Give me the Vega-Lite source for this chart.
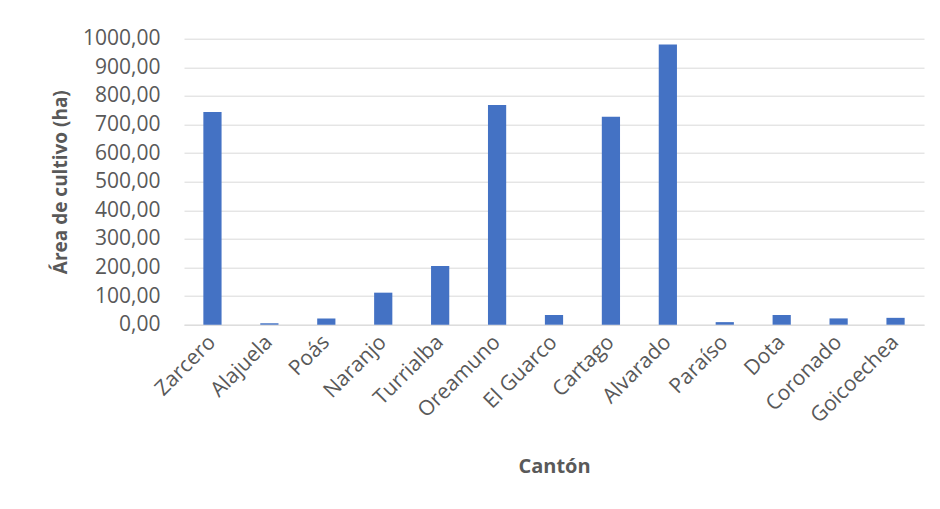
{
  "$schema": "https://vega.github.io/schema/vega-lite/v6.json",
  "width": 740,
  "height": 286,
  "autosize": "none",
  "padding": {"left": 184, "top": 38.7, "right": 16, "bottom": 184.3},
  "background": "white",
  "data": {
    "values": [
      {"canton": "Zarcero", "area": 744},
      {"canton": "Alajuela", "area": 5},
      {"canton": "Poás", "area": 22},
      {"canton": "Naranjo", "area": 112},
      {"canton": "Turrialba", "area": 205},
      {"canton": "Oreamuno", "area": 768},
      {"canton": "El Guarco", "area": 34},
      {"canton": "Cartago", "area": 727},
      {"canton": "Alvarado", "area": 980},
      {"canton": "Paraíso", "area": 9},
      {"canton": "Dota", "area": 34},
      {"canton": "Coronado", "area": 22},
      {"canton": "Goicoechea", "area": 24}
    ]
  },
  "mark": {"type": "bar", "color": "#4472C4"},
  "encoding": {
    "x": {
      "field": "canton",
      "type": "nominal",
      "sort": null,
      "scale": {"paddingInner": 0.68, "paddingOuter": 0.34},
      "axis": {
        "title": "Cantón",
        "labelAngle": -45,
        "labelAlign": "right",
        "labelBaseline": "middle",
        "labelPadding": 14,
        "labelOverlap": false,
        "ticks": false,
        "domainColor": "#D9D9D9",
        "domainWidth": 1,
        "titleY": 142,
        "titleFontSize": 20,
        "titleBaseline": "middle",
        "titleAlign": "center"
      }
    },
    "y": {
      "field": "area",
      "type": "quantitative",
      "scale": {"domain": [0, 1000]},
      "axis": {
        "title": "Área de cultivo (ha)",
        "values": [0, 100, 200, 300, 400, 500, 600, 700, 800, 900, 1000],
        "labelExpr": "replace(format(datum.value, '.2f'), '.', ',')",
        "labelOverlap": false,
        "ticks": false,
        "domain": false,
        "labelPadding": 24,
        "gridColor": "#D9D9D9",
        "titleX": -124,
        "titleY": 143,
        "titleAngle": 270,
        "titleBaseline": "middle",
        "titleAlign": "center"
      }
    }
  },
  "config": {
    "view": {"stroke": null},
    "axis": {
      "labelFont": "Open Sans",
      "labelFontSize": 21,
      "labelColor": "#595959",
      "titleFont": "Open Sans",
      "titleFontSize": 19,
      "titleFontWeight": "bold",
      "titleColor": "#595959"
    }
  }
}
